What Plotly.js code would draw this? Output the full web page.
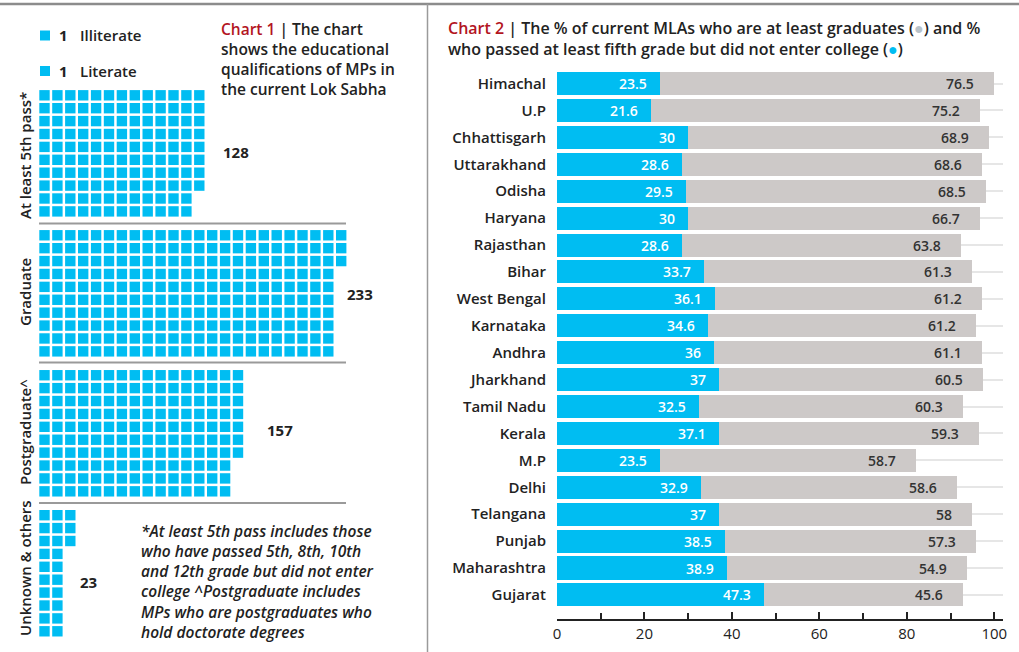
<!DOCTYPE html>
<html><head><meta charset="utf-8">
<script src="https://cdn.plot.ly/plotly-3.0.1.min.js"></script>
<style>html,body{margin:0;padding:0;background:#fff}#c{width:1019px;height:652px}</style>
</head><body><div id="c"></div>
<script>
// ---- Chart 1 data (waffle, 1 square = 1 MP) ----
const mpCategories = ['At least 5th pass*', 'Graduate', 'Postgraduate^', 'Unknown & others'];
const mpCounts = [128, 233, 157, 23];
const legendCounts = ['1', '1'];
const legendLabels = ['Illiterate', 'Literate'];

// ---- Chart 2 data ----
const states = ['Himachal','U.P','Chhattisgarh','Uttarakhand','Odisha','Haryana','Rajasthan','Bihar','West Bengal','Karnataka','Andhra','Jharkhand','Tamil Nadu','Kerala','M.P','Delhi','Telangana','Punjab','Maharashtra','Gujarat'];
const fifthPass = [23.5,21.6,30,28.6,29.5,30,28.6,33.7,36.1,34.6,36,37,32.5,37.1,23.5,32.9,37,38.5,38.9,47.3];
const graduates = [76.5,75.2,68.9,68.6,68.5,66.7,63.8,61.3,61.2,61.2,61.1,60.5,60.3,59.3,58.7,58.6,58,57.3,54.9,45.6];
const xTicks = [0, 20, 40, 60, 80, 100];

// ---- layout constants ----
const W = 1019, H = 652;
const BLUE = '#00bdf2', GREY = '#cdc9c8', RED = '#b3151f', INK = '#222222';
const FONT = 'Open Sans';
const PITCH = 12.9, X0 = 44.5, Y0 = 95.3, ROWS = 10, SECTION = 10.85;
const px = v => v / W, py = v => 1 - v / H;

// waffle points
const wx = [], wy = [];
mpCounts.forEach((n, s) => {
  for (let k = 0; k < n; k++) {
    wx.push(Math.floor(k / ROWS));
    wy.push(s * SECTION + (k % ROWS));
  }
});

const traces = [
  {type: 'scatter', mode: 'markers', x: wx, y: wy, xaxis: 'x', yaxis: 'y',
   marker: {symbol: 'square', size: 10.4, color: BLUE, line: {width: 0}},
   hoverinfo: 'skip', showlegend: false},
  {type: 'bar', orientation: 'h', y: states, x: fifthPass, xaxis: 'x2', yaxis: 'y2',
   marker: {color: BLUE}, hoverinfo: 'x+y', showlegend: false},
  {type: 'bar', orientation: 'h', y: states, x: graduates, xaxis: 'x2', yaxis: 'y2',
   marker: {color: GREY}, hoverinfo: 'x+y', showlegend: false}
];

const ann = [];
const shapes = [];
// frame lines
shapes.push({type: 'line', xref: 'paper', yref: 'paper', x0: 0, x1: 1, y0: py(4), y1: py(4), line: {color: '#8c8c8c', width: 2.5}});
shapes.push({type: 'line', xref: 'paper', yref: 'paper', x0: px(427.5), x1: px(427.5), y0: py(4), y1: 0, line: {color: '#9a9a9a', width: 1.5}});
// separators between waffle sections
[223.5, 362.5, 503].forEach(v => shapes.push({type: 'line', xref: 'paper', yref: 'paper', x0: px(39), x1: px(346), y0: py(v), y1: py(v), line: {color: '#9a9a9a', width: 2}}));
// legend
[35.5, 71].forEach((cy, i) => {
  shapes.push({type: 'rect', xref: 'paper', yref: 'paper', x0: px(40), x1: px(50), y0: py(cy - 5), y1: py(cy + 5), fillcolor: BLUE, line: {width: 0}});
  ann.push({xref: 'paper', yref: 'paper', x: px(57), y: py(cy), xanchor: 'left', yanchor: 'middle', showarrow: false,
    text: '<b>' + legendCounts[i] + '</b>', font: {family: FONT, size: 15, color: INK}});
  ann.push({xref: 'paper', yref: 'paper', x: px(78), y: py(cy), xanchor: 'left', yanchor: 'middle', showarrow: false,
    text: legendLabels[i], font: {family: FONT, size: 15, color: INK, weight: 600}});
});
// chart 1 title
ann.push({xref: 'paper', yref: 'paper', x: px(219), y: py(16), xanchor: 'left', yanchor: 'top', showarrow: false, align: 'left',
  text: '<span style="color:' + RED + '">Chart 1</span> | The chart<br>shows the educational<br>qualifications of MPs in<br>the current Lok Sabha',
  font: {family: FONT, size: 15.5, color: INK, weight: 600}});
// section labels (rotated)
const secCenters = [156, 292, 432, 568];
const valuePos = [[221, 152], [345, 294], [265, 430], [78, 582]];
mpCategories.forEach((c, i) => {
  ann.push({xref: 'paper', yref: 'paper', x: px(25), y: py(secCenters[i]), xanchor: 'center', yanchor: 'middle', showarrow: false, textangle: -90,
    text: c, font: {family: FONT, size: 15, color: INK, weight: 600}});
  ann.push({xref: 'paper', yref: 'paper', x: px(valuePos[i][0]), y: py(valuePos[i][1]), xanchor: 'left', yanchor: 'middle', showarrow: false,
    text: '<b>' + mpCounts[i] + '</b>', font: {family: FONT, size: 15, color: INK}});
});
// footnote
ann.push({xref: 'paper', yref: 'paper', x: px(139), y: py(518), xanchor: 'left', yanchor: 'top', showarrow: false, align: 'left',
  text: '<i>*At least 5th pass includes those<br>who have passed 5th, 8th, 10th<br>and 12th grade but did not enter<br>college ^Postgraduate includes<br>MPs who are postgraduates who<br>hold doctorate degrees</i>',
  font: {family: FONT, size: 15.5, color: INK, weight: 600}});
// chart 2 title
ann.push({xref: 'paper', yref: 'paper', x: px(446), y: py(15), xanchor: 'left', yanchor: 'top', showarrow: false, align: 'left',
  text: '<span style="color:' + RED + '">Chart 2</span> | The % of current MLAs who are at least graduates (<span style="color:#b9c3ca">●</span>) and %<br>who passed at least fifth grade but did not enter college (<span style="color:' + BLUE + '">●</span>)',
  font: {family: FONT, size: 16, color: INK, weight: 600}});
// bar value labels
states.forEach((s, i) => {
  ann.push({xref: 'x2', yref: 'y2', x: fifthPass[i], y: s, xanchor: 'right', yanchor: 'middle', xshift: -11, showarrow: false,
    text: String(fifthPass[i]), font: {family: FONT, size: 14, color: '#ffffff', weight: 600}});
  ann.push({xref: 'x2', yref: 'y2', x: fifthPass[i] + graduates[i], y: s, xanchor: 'right', yanchor: 'middle', xshift: -18, showarrow: false,
    text: String(graduates[i]), font: {family: FONT, size: 14, color: '#333333', weight: 600}});
});

const layout = {
  width: W, height: H, margin: {l: 0, r: 0, t: 0, b: 0},
  paper_bgcolor: '#fff', plot_bgcolor: 'rgba(0,0,0,0)',
  barmode: 'stack', bargap: 0.145, showlegend: false,
  xaxis: {domain: [0, 1], range: [-X0 / PITCH, (W - X0) / PITCH], visible: false, fixedrange: true},
  yaxis: {domain: [0, 1], range: [(H - Y0) / PITCH, -Y0 / PITCH], visible: false, fixedrange: true},
  xaxis2: {domain: [px(557), px(1003)], anchor: 'y2', range: [0, 102], tickvals: xTicks, ticktext: xTicks.map(String),
    ticks: 'inside', ticklen: 7, tickwidth: 2, tickcolor: INK, showline: true, linecolor: INK, linewidth: 2,
    minor: {dtick: 10, tick0: 0, ticks: 'inside', ticklen: 6, tickwidth: 2, tickcolor: INK},
    showgrid: false, zeroline: false, tickfont: {family: FONT, size: 15, color: INK, weight: 500}},
  yaxis2: {domain: [1 - 619 / H, 1 - 65 / H], anchor: 'x2', type: 'category', range: [19.895, -0.688],
    showgrid: true, gridcolor: '#e6e6e6', gridwidth: 2, ticks: '', showline: false, zeroline: false,
    ticklabelstandoff: 10, tickfont: {family: FONT, size: 15, color: INK, weight: 600}},
  shapes: shapes, annotations: ann
};
Plotly.newPlot('c', traces, layout, {staticPlot: true});
</script></body></html>
